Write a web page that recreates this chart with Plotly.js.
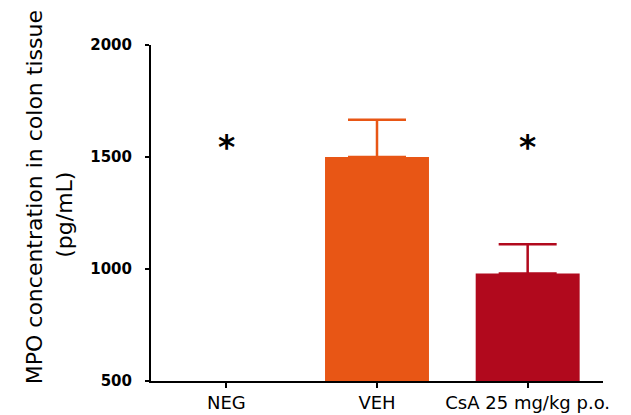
<!DOCTYPE html>
<html>
<head>
<meta charset="utf-8">
<script src="https://cdn.plot.ly/plotly-3.0.1.min.js"></script>
<style>html,body{margin:0;padding:0;background:#fff;}#chart{width:631px;height:415px;}</style>
</head>
<body>
<div id="chart"></div>
<script>
const categories = ["NEG", "VEH", "CsA 25 mg/kg p.o."];
const means = [500, 1500, 980];
const errorsUp = [0, 166, 130];
const barColors = ["#4A7FC1", "#E85615", "#B1091D"];
const starCategories = ["NEG", "CsA 25 mg/kg p.o."];
const starLevel = [1555, 1555];
const yTicks = [500, 1000, 1500, 2000];

const traces = categories.map((c, i) => ({
  type: "bar",
  x: [c],
  y: [means[i]],
  width: 0.69,
  marker: {color: barColors[i], line: {width: 0}},
  error_y: {
    type: "data",
    symmetric: false,
    array: [errorsUp[i]],
    arrayminus: [0],
    color: barColors[i],
    thickness: 2.5,
    width: 29,
    visible: errorsUp[i] > 0
  },
  showlegend: false,
  hoverinfo: "none"
}));

const annotations = starCategories.map((c, i) => ({
  x: c, y: starLevel[i], xref: "x", yref: "y",
  text: "<b>*</b>", showarrow: false,
  font: {family: "DejaVu Sans", size: 33, color: "#000"},
  yanchor: "middle", yshift: -3
}));
annotations.push({
  xref: "paper", yref: "paper", x: -0.258, y: 0.548,
  xanchor: "center", yanchor: "middle",
  text: "MPO concentration in colon tissue", textangle: -90, showarrow: false,
  font: {family: "DejaVu Sans", size: 22, color: "#000"}
});
annotations.push({
  xref: "paper", yref: "paper", x: -0.193, y: 0.494,
  xanchor: "center", yanchor: "middle",
  text: "(pg/mL)", textangle: -90, showarrow: false,
  font: {family: "DejaVu Sans", size: 22, color: "#000"}
});

const layout = {
  width: 631, height: 415,
  margin: {l: 151, r: 28, t: 45, b: 34, pad: 0},
  paper_bgcolor: "#fff", plot_bgcolor: "#fff",
  barmode: "overlay",
  showlegend: false,
  xaxis: {
    type: "category",
    range: [-0.5, 2.5],
    showline: true, linecolor: "#000", linewidth: 2,
    ticks: "outside", ticklen: 5, tickwidth: 2, tickcolor: "#000",
    ticklabelstandoff: -1,
    showgrid: false, zeroline: false,
    tickfont: {family: "DejaVu Sans", size: 18, color: "#000"}
  },
  yaxis: {
    range: [500, 2000],
    tickvals: yTicks,
    ticktext: yTicks.map(v => "<b>" + v + "</b>"),
    showline: true, linecolor: "#000", linewidth: 2,
    ticks: "outside", ticklen: 4, tickwidth: 2, tickcolor: "#000",
    ticklabelstandoff: 10,
    showgrid: false, zeroline: false,
    tickfont: {family: "DejaVu Sans", size: 15, color: "#000"}
  },
  annotations: annotations
};

Plotly.newPlot("chart", traces, layout, {displayModeBar: false, staticPlot: true});
</script>
</body>
</html>
